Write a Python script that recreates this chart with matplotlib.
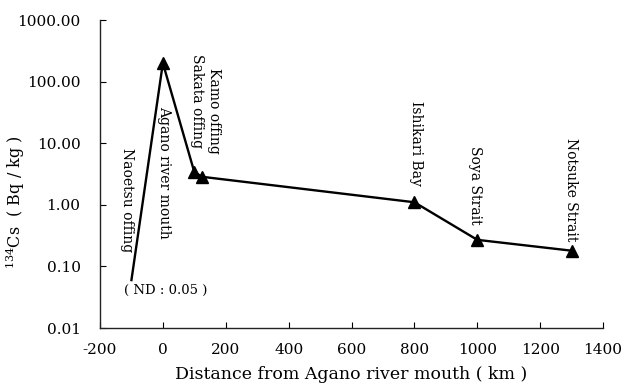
import matplotlib
matplotlib.use("Agg")
import matplotlib.pyplot as plt
from matplotlib.ticker import FixedLocator, FuncFormatter, NullLocator

plt.rcParams['font.family'] = ['DejaVu Serif']
plt.rcParams['mathtext.fontset'] = 'dejavuserif'
plt.rcParams['axes.unicode_minus'] = False

# distance from Agano river mouth (km) and 134Cs (Bq/kg)
distance = [-100, 0, 100, 125, 800, 1000, 1300]
cs134 = [0.06, 200, 3.4, 2.85, 1.1, 0.27, 0.18]

# station names, with label anchor positions (data coords)
names = ["Naoetsu offing", "Agano river mouth", "Sakata offing", "Kamo offing",
         "Ishikari Bay", "Soya Strait", "Notsuke Strait"]
label_x = [-114, 4, 108, 162, 805, 993, 1298]
label_y = [1.2, 3.4, 48, 34, 10.1, 2.1, 1.75]

yticks = [0.01, 0.1, 1, 10, 100, 1000]
xticks = list(range(-200, 1401, 200))

fig = plt.figure(figsize=(6.23, 3.85), dpi=100)
ax = fig.add_axes([0.1605, 0.148, 0.8075, 0.8])

# first point (ND) has no marker
ax.plot(distance, cs134, color='black', lw=1.7, marker='^', markersize=8,
        markevery=list(range(1, len(distance))))

ax.set_yscale('log')
ax.set_ylim(0.01, 1000)
ax.set_xlim(-200, 1400)
ax.yaxis.set_major_locator(FixedLocator(yticks))
ax.yaxis.set_minor_locator(NullLocator())
ax.yaxis.set_major_formatter(FuncFormatter(lambda v, p: f"{v:.2f}"))
ax.set_xticks(xticks)
ax.tick_params(direction='in', length=4, width=0.8, labelsize=11)
ax.tick_params(axis='y', pad=14)
ax.tick_params(axis='x', pad=11)

for s in ['top', 'right']:
    ax.spines[s].set_visible(False)
for s in ['left', 'bottom']:
    ax.spines[s].set_linewidth(1.0)
    ax.spines[s].set_color('#222222')

for name, lx, ly in zip(names, label_x, label_y):
    ax.text(lx, ly, name, rotation=270, ha='center', va='center', fontsize=10)

ax.text(10, 0.04, "( ND : 0.05 )", ha='center', va='center', fontsize=9.5)

ax.set_xlabel("Distance from Agano river mouth ( km )", fontsize=12.5, labelpad=6)
ax.set_ylabel(r"$^{134}$Cs  ( Bq / kg )", fontsize=11.5)
ax.yaxis.set_label_coords(-0.145, 0.41)

fig.savefig("out.png", dpi=100)
